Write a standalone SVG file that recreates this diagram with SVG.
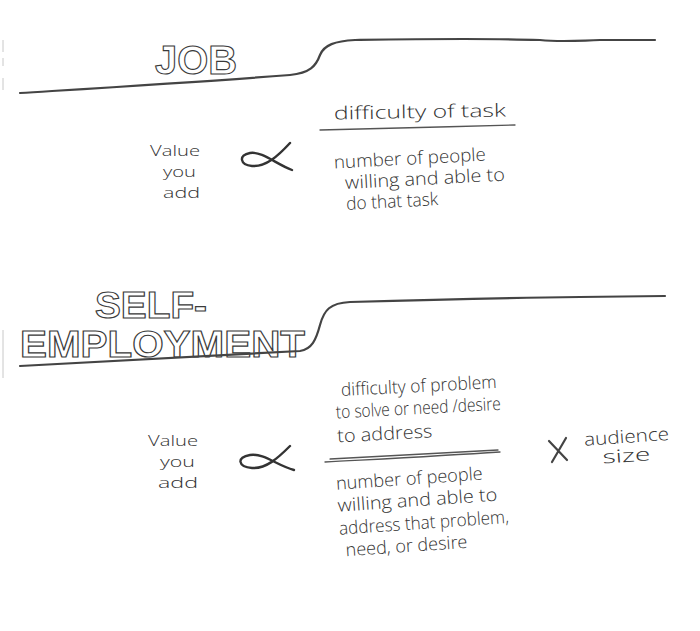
<svg xmlns="http://www.w3.org/2000/svg" width="700" height="631" viewBox="0 0 700 631">
<style>
.hw{font-family:"Open Sans","Liberation Sans",sans-serif;font-weight:300;font-size:18px;fill:#333}
.sm{font-size:15px}
.title{font-family:"Liberation Sans",Arial,sans-serif;font-weight:bold;fill:#fff;stroke:#3a3a3a;stroke-width:1.1}
.ln{fill:none;stroke:#444;stroke-width:2.2;stroke-linecap:round}
.thin{fill:none;stroke:#555;stroke-width:1.3;stroke-linecap:round}
.edge{stroke:#c8c8c8;stroke-width:1}
.alpha{fill:none;stroke:#333;stroke-width:2.4;stroke-linecap:round}
</style>
<rect width="700" height="631" fill="#fff"/>
<g id="edge-marks">
<line class="edge" x1="3" y1="40" x2="3" y2="52"/>
<line class="edge" x1="3" y1="58" x2="3" y2="66"/>
<line class="edge" x1="3" y1="78" x2="3" y2="90"/>
<line class="edge" x1="3" y1="330" x2="3" y2="378"/>
</g>
<g id="job-section">
<text class="title" x="155" y="74" font-size="40" textLength="82" lengthAdjust="spacingAndGlyphs">JOB</text>
<path class="ln" d="M20,93 C100,88 200,82 290,75 C310,73 316,66 320,55 C324,45 335,41 355,40 C420,39 480,38 540,40 C560,42 570,41 600,40 L655,40"/>
<text class="hw" x="334" y="118" textLength="172" lengthAdjust="spacingAndGlyphs" transform="rotate(-1 420 118)">difficulty of task</text>
<path class="thin" d="M320,130 C380,128 450,127 515,125"/>
<g id="job-lhs">
<text class="hw sm" x="150" y="156" textLength="50" lengthAdjust="spacingAndGlyphs">Value</text>
<text class="hw sm" x="163" y="177" textLength="33" lengthAdjust="spacingAndGlyphs">you</text>
<text class="hw sm" x="163" y="198" textLength="37" lengthAdjust="spacingAndGlyphs">add</text>
</g>
<path class="alpha" d="M290,143 C278,156 266,167 252,166 C240,165 238,155 250,153 C262,151 276,164 292,170"/>
<g id="job-denominator" transform="rotate(-3 420 180)">
<text class="hw" x="335" y="164" textLength="152" lengthAdjust="spacingAndGlyphs">number of people</text>
<text class="hw" x="345" y="185" textLength="160" lengthAdjust="spacingAndGlyphs">willing and able to</text>
<text class="hw" x="345" y="206" textLength="92" lengthAdjust="spacingAndGlyphs">do that task</text>
</g>
</g>
<g id="self-section">
<text class="title" x="95" y="318" font-size="36" textLength="112" lengthAdjust="spacingAndGlyphs">SELF-</text>
<text class="title" x="20" y="357" font-size="36" textLength="285" lengthAdjust="spacingAndGlyphs">EMPLOYMENT</text>
<path class="ln" d="M20,366 C100,361 200,357 300,351 C312,349 316,340 320,325 C324,310 330,303 350,302 C420,300 500,298 580,297 L665,296"/>
<g id="self-numerator" transform="rotate(-3 420 410)">
<text class="hw" x="342" y="392" textLength="156" lengthAdjust="spacingAndGlyphs">difficulty of problem</text>
<text class="hw" x="336" y="414" textLength="165" lengthAdjust="spacingAndGlyphs">to solve or need /desire</text>
<text class="hw" x="336" y="438" textLength="95" lengthAdjust="spacingAndGlyphs">to address</text>
</g>
<path class="thin" d="M325,462 C380,459 440,456 500,452"/>
<path class="thin" d="M330,459 C390,456 450,453 498,450" stroke-width="0.8"/>
<g id="self-lhs">
<text class="hw sm" x="148" y="446" textLength="50" lengthAdjust="spacingAndGlyphs">Value</text>
<text class="hw sm" x="160" y="467" textLength="35" lengthAdjust="spacingAndGlyphs">you</text>
<text class="hw sm" x="158" y="488" textLength="40" lengthAdjust="spacingAndGlyphs">add</text>
</g>
<path class="alpha" d="M290,446 C278,458 266,469 252,468 C238,467 236,457 250,455 C264,453 276,465 294,470"/>
<g id="times">
<path class="ln" d="M549,441 L567,460 M566,438 L552,462" stroke-width="2"/>
</g>
<g id="audience" transform="rotate(-4 625 450)">
<text class="hw" x="585" y="443" textLength="85" lengthAdjust="spacingAndGlyphs">audience</text>
<text class="hw" x="602" y="462" textLength="48" lengthAdjust="spacingAndGlyphs">size</text>
</g>
<g id="self-denominator" transform="rotate(-4 420 510)">
<text class="hw" x="338" y="484" textLength="147" lengthAdjust="spacingAndGlyphs">number of people</text>
<text class="hw" x="338" y="506" textLength="160" lengthAdjust="spacingAndGlyphs">willing and able to</text>
<text class="hw" x="338" y="529" textLength="170" lengthAdjust="spacingAndGlyphs">address that problem,</text>
<text class="hw" x="343" y="551" textLength="122" lengthAdjust="spacingAndGlyphs">need, or desire</text>
</g>
</g>
</svg>
